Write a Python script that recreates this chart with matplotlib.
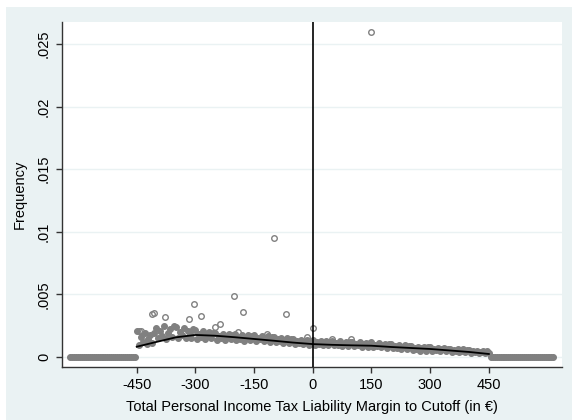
import numpy as np
import matplotlib
matplotlib.use("Agg")
import matplotlib.pyplot as plt
from matplotlib.patches import Rectangle

plt.rcParams['font.family'] = ['Liberation Sans', 'DejaVu Sans']

# ---- data (frequencies in units of 1e-5) ----
band_start, band_step = -450, 5
band_e5 = [
    205, 95, 160, 120, 188, 100, 145, 175, 110, 195,
    235, 150, 205, 170, 250, 145, 190, 225, 160, 245,
    240, 155, 200, 175, 230, 148, 210, 185, 150, 222,
    215, 145, 185, 160, 205, 140, 172, 198, 150, 190,
    192, 138, 170, 150, 186, 134, 160, 180, 140, 175,
    185, 132, 160, 145, 178, 130, 152, 175, 135, 170,
    178, 128, 155, 140, 170, 124, 148, 165, 122, 158,
    162, 118, 142, 125, 155, 112, 136, 150, 110, 145,
    140, 104, 124, 110, 136, 100, 120, 132, 98, 128,
    132, 97, 116, 104, 128, 95, 112, 125, 94, 120,
    128, 92, 110, 98, 124, 90, 106, 120, 88, 116,
    120, 85, 104, 92, 116, 82, 100, 112, 80, 108,
    118, 80, 98, 86, 110, 76, 94, 104, 74, 100,
    100, 68, 85, 74, 96, 64, 82, 92, 62, 88,
    86, 54, 72, 60, 82, 50, 68, 80, 50, 76,
    76, 47, 62, 52, 72, 45, 60, 70, 44, 66,
    66, 40, 54, 44, 62, 38, 50, 60, 36, 56,
    52, 32, 44, 36, 50, 30, 42, 48, 28, 44,
    30,
]
outlier_x = [150, -100, -202, -303, -179, -69, -405, -410, -378, -285,
             -316, -249, -237, 0, -192, -116, 48, 97, -15, -445, -440]
outlier_e5 = [2600, 950, 485, 420, 357, 346, 350, 340, 322, 330,
              300, 240, 260, 230, 200, 180, 140, 140, 160, 210, 205]
zero_left = (-620, -455)
zero_right = (455, 615)
zero_step = 5

fit_x = [-450, -400, -350, -300, -250, -200, -150, -100, -50, 0,
         50, 100, 150, 200, 250, 300, 350, 400, 450]
fit_e5 = [82, 120, 157, 176, 170, 158, 144, 130, 115, 103,
          97, 93, 90, 80, 72, 64, 52, 40, 24]

xticks = [-450, -300, -150, 0, 150, 300, 450]
yticks = [0, 0.005, 0.01, 0.015, 0.02, 0.025]
ytick_labels = ['0', '.005', '.01', '.015', '.02', '.025']

# ---- figure ----
W, H = 572, 420
fig = plt.figure(figsize=(W / 100, H / 100), dpi=100)
fig.patch.set_facecolor('white')
bg = Rectangle((6 / W, 0), 1 - 6 / W, 1 - 7 / H, transform=fig.transFigure,
               facecolor='#eaf2f3', edgecolor='none', zorder=-10)
fig.add_artist(bg)

ax = fig.add_axes([62 / W, (H - 367) / H, 500 / W, 345 / H])
ax.set_zorder(1)
ax.set_facecolor('white')

gray = '#808080'
band_x = band_start + band_step * np.arange(len(band_e5))
band_y = np.array(band_e5) * 1e-5
zx = np.concatenate([np.arange(zero_left[0], zero_left[1] + 1, zero_step),
                     np.arange(zero_right[0], zero_right[1] + 1, zero_step)])
zy = np.zeros(len(zx))

ax.plot(zx, zy, 'o', ms=4.2, mfc=gray, mec=gray, mew=0.8, zorder=3)
ax.plot(band_x, band_y, 'o', ms=4.2, mfc=gray, mec=gray, mew=0.8, zorder=3)
ax.plot(outlier_x, np.array(outlier_e5) * 1e-5, 'o', ms=4.0, mfc='none', mec=gray,
        mew=1.0, zorder=3)
ax.plot(fit_x, np.array(fit_e5) * 1e-5, '-', color='black', lw=1.3, zorder=4)
ax.axvline(0, color='black', lw=1.2, zorder=5)

ax.set_xlim(-641, 637)
ax.set_ylim(-0.0008, 0.02676)
ax.set_xticks(xticks)
ax.set_xticklabels([str(v) for v in xticks])
ax.set_yticks(yticks)
ax.set_yticklabels(ytick_labels, rotation=90, va='center')
ax.grid(axis='y', color='#eaf2f3', lw=1.0, zorder=0)
ax.grid(axis='x', visible=False)
ax.set_axisbelow(True)
for s in ['top', 'right']:
    ax.spines[s].set_visible(False)
for s in ['left', 'bottom']:
    ax.spines[s].set_color('#333333')
    ax.spines[s].set_linewidth(1.0)
ax.tick_params(axis='both', direction='out', length=4, width=1.0, color='#333333',
               labelsize=10.5, labelcolor='black')
ax.tick_params(axis='x', pad=4)
ax.tick_params(axis='y', pad=4)
ax.set_xlabel('Total Personal Income Tax Liability Margin to Cutoff (in €)', fontsize=10.5,
              labelpad=6)
ax.set_ylabel('Frequency', fontsize=10.5, labelpad=7)

fig.savefig('out.png', dpi=100, facecolor=fig.get_facecolor())
